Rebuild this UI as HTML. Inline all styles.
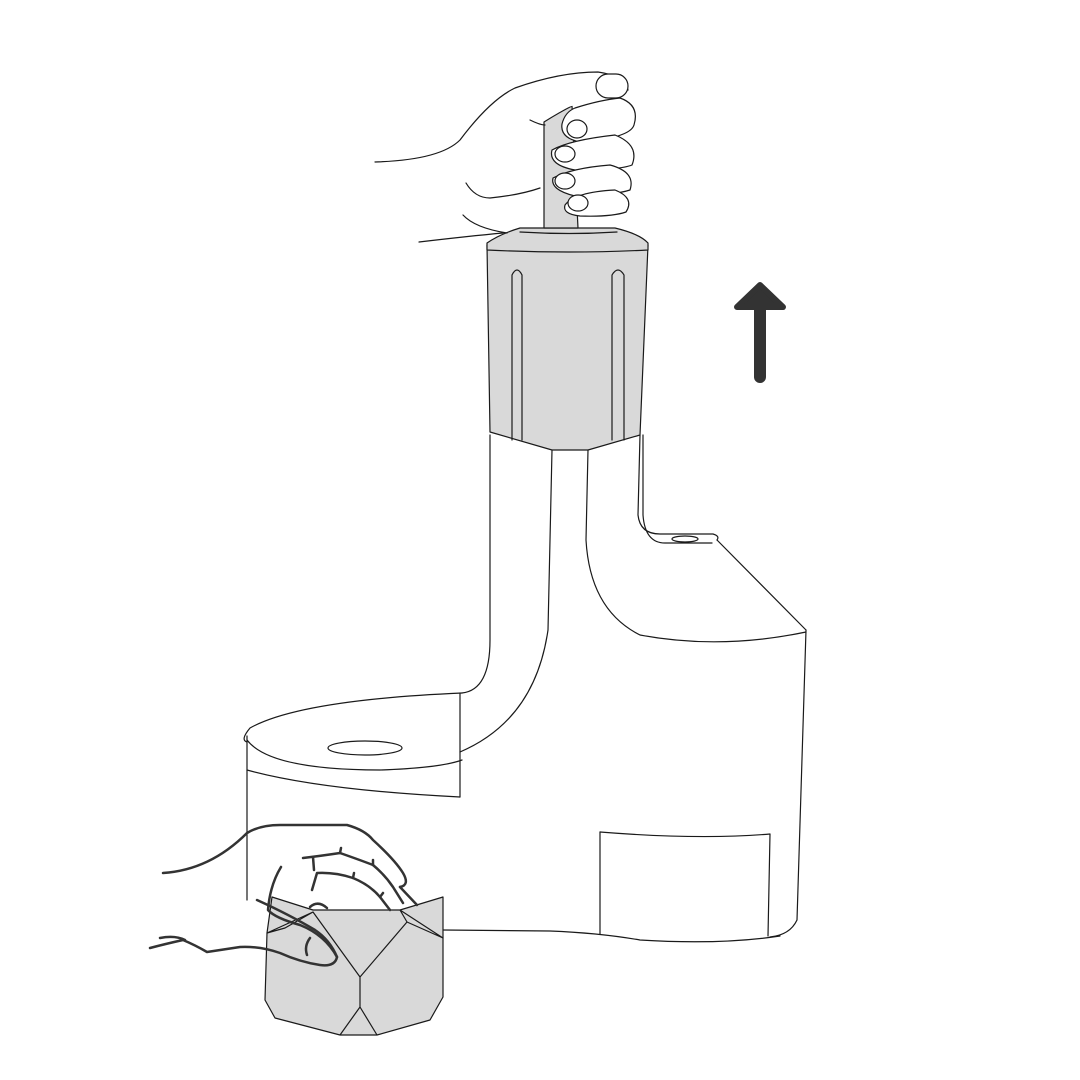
<!DOCTYPE html>
<html>
<head>
<meta charset="utf-8">
<style>
html,body{margin:0;padding:0;background:#fff;}
svg{display:block;}
</style>
</head>
<body>
<svg width="1080" height="1080" viewBox="0 0 1080 1080">
  <g fill="none" stroke="#1a1a1a" stroke-width="1.2" stroke-linejoin="round" stroke-linecap="round">
    <g>
      <path d="M490 435 L490 640 Q490 690 462 693"/>
      <path d="M462 693 Q300 700 250 728 Q240 740 247 742"/>
      <path d="M247 740 Q270 770 380 770 Q440 768 462 760"/>
      <path d="M460 693 L460 797"/>
      <path d="M247 770 Q320 790 460 797"/>
      <path d="M247 736 L247 900"/>
      <ellipse cx="365" cy="748" rx="37" ry="7"/>
      <path d="M552 450 L548 630 Q535 720 460 752"/>
      <path d="M588 450 L586 540 Q590 610 640 635 Q720 650 806 632"/>
      <path d="M640 435 L638 515 Q640 534 660 534 L713 534 Q720 536 717 540"/>
      <path d="M643 435 L643 515 Q645 543 665 543 L712 543"/>
      <ellipse cx="685" cy="539" rx="13" ry="3"/>
      <path d="M717 540 L806 630"/>
      <path d="M806 630 L797 920 Q790 935 770 937"/>
      <path d="M443 930 L550 931 Q600 933 640 940 Q720 945 780 936"/>
      <path d="M600 832 Q700 840 770 834 L768 936"/>
      <path d="M600 832 L600 934"/>
    </g>
    <g>
      <path d="M490 432 L552 450 L588 450 L640 435 L648 245 L487 245 Z" fill="#d9d9d9"/>
      <path d="M487 250 L487 243 Q500 234 520 228 L615 228 Q640 234 648 243 L648 250 Q570 254 487 250 Z" fill="#d9d9d9"/>
      <path d="M520 232 Q570 235 617 232"/>
      <path d="M512 440 L512 275 Q517 265 522 275 L522 440"/>
      <path d="M612 440 L612 275 Q618 265 624 275 L624 440"/>
    </g>
    <path d="M544 228 L544 122 Q560 112 572 106 L578 228 Z" fill="#d9d9d9"/>
    <g fill="#fff">
      <path d="M375 162 Q440 160 460 140 Q490 100 515 88 Q560 72 598 72 Q625 76 628 90"/>
      <path d="M466 183 Q475 198 490 198 Q520 195 540 188"/>
      <path d="M463 215 Q475 228 507 233"/>
      <path d="M419 242 Q470 236 503 233"/>
      <path d="M530 120 Q540 125 545 125"/>
      <rect x="596" y="74" width="32" height="24" rx="12"/>
      <path d="M575 108 Q600 100 620 98 Q640 105 634 125 Q630 138 580 142 Q560 138 562 124 Q565 112 575 108 Z"/>
      <ellipse cx="577" cy="129" rx="10" ry="9"/>
      <path d="M552 150 Q570 140 615 135 Q640 145 632 165 Q620 170 575 170 Q548 165 552 150 Z"/>
      <ellipse cx="565" cy="154" rx="10" ry="8"/>
      <path d="M553 178 Q572 168 610 165 Q636 172 630 190 Q615 195 575 196 Q550 190 553 178 Z"/>
      <ellipse cx="565" cy="181" rx="10" ry="8"/>
      <path d="M565 205 Q575 192 615 190 Q635 198 626 212 Q612 217 580 216 Q562 214 565 205 Z"/>
      <ellipse cx="578" cy="203" rx="10" ry="8"/>
    </g>
  </g>
  <g>
    <line x1="760" y1="300" x2="760" y2="377" stroke="#333" stroke-width="12" stroke-linecap="round"/>
    <path d="M760 285 L783 307 L737 307 Z" fill="#333" stroke="#333" stroke-width="6" stroke-linejoin="round"/>
  </g>
  <g stroke="#1a1a1a" stroke-width="1.2" stroke-linejoin="round" fill="none">
    <path d="M272 897 L313 910 L400 910 L443 897 L443 997 L430 1020 L377 1035 L340 1035 L275 1018 L265 1000 L267 933 Z" fill="#d9d9d9"/>
    <path d="M267 933 L313 912 L285 928 Z"/>
    <path d="M313 912 L360 977 L407 922 L400 910 M407 922 L443 938 L400 910 M360 977 L360 1007 L340 1035 M360 1007 L377 1035"/>
  </g>
  <g fill="none" stroke="#333" stroke-width="2.5" stroke-linecap="round" stroke-linejoin="round">
    <path d="M163 873 Q210 870 247 833 Q260 825 280 825 L347 825 Q365 830 373 840 Q395 860 403 873 Q410 885 400 887"/>
    <path d="M400 887 L417 905"/>
    <path d="M303 858 Q320 856 340 853 Q360 860 373 865 Q385 875 393 887 L403 903"/>
    <path d="M340 853 L341 848 M373 865 L373 860 M313 857 L314 870"/>
    <path d="M312 890 L317 873 Q335 872 353 878 Q370 885 380 897 L390 910"/>
    <path d="M353 878 L354 873 M380 897 L383 893"/>
    <path d="M310 907 Q318 900 327 908"/>
    <path d="M281 867 Q270 885 268 910 Q275 918 300 925 Q325 935 337 957 Q335 967 320 965 Q300 962 280 953 Q260 946 240 947 Q220 950 207 952 Q195 945 183 940 Q165 944 150 948"/>
    <path d="M160 938 Q175 935 185 940"/>
    <path d="M257 900 Q290 915 315 930 Q330 940 337 957"/>
    <path d="M310 938 Q304 946 307 955"/>
  </g>
</svg>
</body>
</html>
